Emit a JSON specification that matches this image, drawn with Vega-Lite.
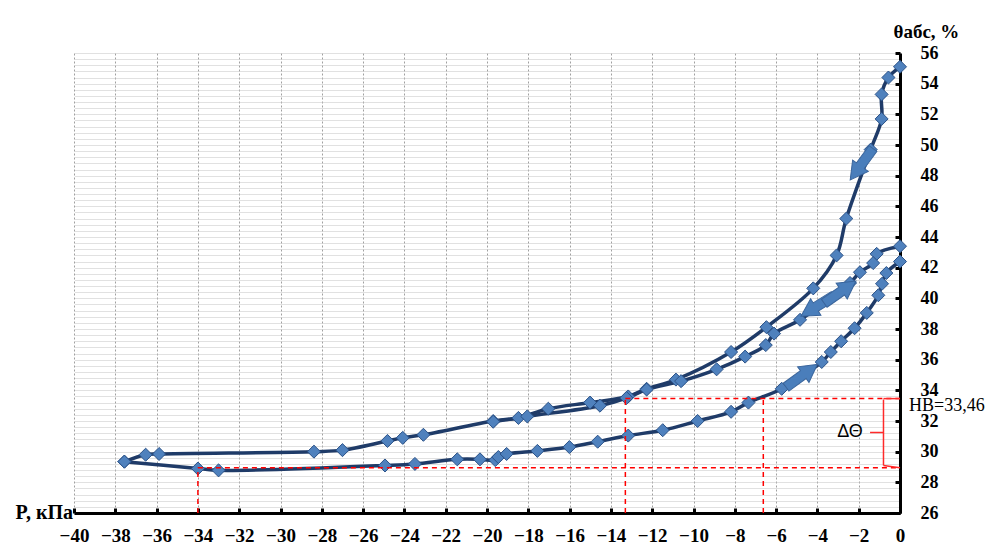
{
  "$schema": "https://vega.github.io/schema/vega-lite/v6.json",
  "width": 826,
  "height": 460,
  "autosize": {"type": "none"},
  "padding": {"left": 74, "top": 53, "right": 90, "bottom": 40},
  "background": "white",
  "config": {"view": {"stroke": null}},
  "datasets": {
    "curves": [
      {"s": "A", "i": 0, "x": 0, "y": 55.1},
      {"s": "A", "i": 1, "x": -0.56, "y": 54.4},
      {"s": "A", "i": 2, "x": -0.89, "y": 53.3},
      {"s": "A", "i": 3, "x": -0.89, "y": 51.7},
      {"s": "A", "i": 4, "x": -1.42, "y": 49.7},
      {"s": "A", "i": 5, "x": -2.6, "y": 45.2},
      {"s": "A", "i": 6, "x": -3.07, "y": 42.8},
      {"s": "A", "i": 7, "x": -4.2, "y": 40.65},
      {"s": "A", "i": 8, "x": -6.47, "y": 38.12},
      {"s": "A", "i": 9, "x": -8.18, "y": 36.5},
      {"s": "A", "i": 10, "x": -10.85, "y": 34.7},
      {"s": "A", "i": 11, "x": -12.27, "y": 34.1},
      {"s": "A", "i": 12, "x": -13.16, "y": 33.6},
      {"s": "A", "i": 13, "x": -15.01, "y": 33.2},
      {"s": "A", "i": 14, "x": -17.03, "y": 32.8},
      {"s": "A", "i": 15, "x": -18.48, "y": 32.2},
      {"s": "A", "i": 16, "x": -19.7, "y": 32.0},
      {"s": "A", "i": 17, "x": -23.08, "y": 31.1},
      {"s": "A", "i": 18, "x": -24.08, "y": 30.9},
      {"s": "A", "i": 19, "x": -24.82, "y": 30.7},
      {"s": "A", "i": 20, "x": -27.0, "y": 30.1},
      {"s": "A", "i": 21, "x": -28.38, "y": 30.0},
      {"s": "A", "i": 22, "x": -35.88, "y": 29.85},
      {"s": "A", "i": 23, "x": -36.53, "y": 29.8},
      {"s": "A", "i": 24, "x": -37.56, "y": 29.35},
      {"s": "B", "i": 0, "x": -37.56, "y": 29.35},
      {"s": "B", "i": 1, "x": -34.0, "y": 28.9},
      {"s": "B", "i": 2, "x": -33.0, "y": 28.78},
      {"s": "B", "i": 4, "x": -24.94, "y": 29.1},
      {"s": "B", "i": 5, "x": -23.49, "y": 29.2},
      {"s": "B", "i": 6, "x": -21.44, "y": 29.5},
      {"s": "B", "i": 7, "x": -20.34, "y": 29.5},
      {"s": "B", "i": 8, "x": -19.6, "y": 29.45},
      {"s": "B", "i": 9, "x": -19.45, "y": 29.65},
      {"s": "B", "i": 10, "x": -19.05, "y": 29.85},
      {"s": "B", "i": 11, "x": -17.56, "y": 30.05},
      {"s": "B", "i": 12, "x": -16.01, "y": 30.3},
      {"s": "B", "i": 13, "x": -14.64, "y": 30.65},
      {"s": "B", "i": 14, "x": -13.16, "y": 31.05},
      {"s": "B", "i": 15, "x": -11.49, "y": 31.4},
      {"s": "B", "i": 16, "x": -9.8, "y": 32.0},
      {"s": "B", "i": 17, "x": -8.18, "y": 32.6},
      {"s": "B", "i": 18, "x": -7.34, "y": 33.2},
      {"s": "B", "i": 19, "x": -5.73, "y": 34.1},
      {"s": "B", "i": 20, "x": -3.79, "y": 35.85},
      {"s": "B", "i": 21, "x": -3.35, "y": 36.5},
      {"s": "B", "i": 22, "x": -2.85, "y": 37.2},
      {"s": "B", "i": 23, "x": -2.2, "y": 38.05},
      {"s": "B", "i": 24, "x": -1.61, "y": 39.05},
      {"s": "B", "i": 25, "x": -1.05, "y": 40.2},
      {"s": "B", "i": 26, "x": -0.87, "y": 40.95},
      {"s": "B", "i": 27, "x": -0.66, "y": 41.65},
      {"s": "B", "i": 28, "x": 0, "y": 42.4},
      {"s": "C", "i": 0, "x": 0, "y": 43.4},
      {"s": "C", "i": 1, "x": -1.13, "y": 42.9},
      {"s": "C", "i": 2, "x": -1.3, "y": 42.3},
      {"s": "C", "i": 3, "x": -1.94, "y": 41.7},
      {"s": "C", "i": 4, "x": -2.42, "y": 41.0},
      {"s": "C", "i": 5, "x": -4.84, "y": 38.6},
      {"s": "C", "i": 6, "x": -6.1, "y": 37.7},
      {"s": "C", "i": 7, "x": -6.5, "y": 36.95},
      {"s": "C", "i": 8, "x": -7.5, "y": 36.2},
      {"s": "C", "i": 9, "x": -8.88, "y": 35.37},
      {"s": "C", "i": 10, "x": -10.6, "y": 34.6},
      {"s": "C", "i": 11, "x": -12.27, "y": 34.05},
      {"s": "C", "i": 12, "x": -13.25, "y": 33.5},
      {"s": "C", "i": 13, "x": -14.53, "y": 33.0},
      {"s": "C", "i": 14, "x": -18.05, "y": 32.3},
      {"s": "C", "i": 15, "x": -19.7, "y": 31.95}
    ],
    "arrows": [
      {"x": -1.86, "y": 48.75, "a": 216},
      {"x": -4.0, "y": 39.5, "a": 238},
      {"x": -2.9, "y": 40.4, "a": 55},
      {"x": -4.76, "y": 34.95, "a": 54}
    ],
    "dashed": [
      {"x": -13.3, "x2": 0, "y": 33.46, "y2": 33.46},
      {"x": -34, "x2": 0, "y": 28.95, "y2": 28.95},
      {"x": -13.3, "x2": -13.3, "y": 26, "y2": 33.46},
      {"x": -6.62, "x2": -6.62, "y": 26, "y2": 33.46},
      {"x": -34, "x2": -34, "y": 26, "y2": 28.95}
    ],
    "brace": [
      {"x": -0.8, "x2": -0.8, "y": 29.1, "y2": 33.4},
      {"x": -0.8, "x2": 0, "y": 33.46, "y2": 33.46},
      {"x": -0.8, "x2": 0, "y": 29.1, "y2": 28.95},
      {"x": -1.45, "x2": -0.8, "y": 31.25, "y2": 31.25}
    ]
  },
  "encoding": {
    "x": {
      "field": "x", "type": "quantitative",
      "scale": {"domain": [-40, 0], "nice": false, "zero": false},
      "axis": {
        "title": "P, кПа",
        "values": [-40, -38, -36, -34, -32, -30, -28, -26, -24, -22, -20, -18, -16, -14, -12, -10, -8, -6, -4, -2, 0],
        "grid": true, "gridColor": "#a0a0a0", "gridDash": [2, 2], "gridWidth": 1,
        "domainColor": "black", "domainWidth": 3,
        "tickColor": "black", "tickWidth": 3, "tickSize": -5,
        "labelFont": "Liberation Serif", "labelFontWeight": "bold", "labelFontSize": 19, "labelColor": "black",
        "labelPadding": 18, "labelFlush": false, "labelOverlap": false,
        "titleFont": "Liberation Serif", "titleFontWeight": "bold", "titleFontSize": 20, "titleColor": "black",
        "titleAngle": 0, "titleAlign": "left", "titleBaseline": "alphabetic", "titleX": -59, "titleY": 5
      }
    },
    "y": {
      "field": "y", "type": "quantitative",
      "scale": {"domain": [26, 56], "nice": false, "zero": false},
      "axis": {
        "orient": "right",
        "title": "θабс, %",
        "values": [26,26.4,26.8,27.2,27.6,28,28.4,28.8,29.2,29.6,30,30.4,30.8,31.2,31.6,32,32.4,32.8,33.2,33.6,34,34.4,34.8,35.2,35.6,36,36.4,36.8,37.2,37.6,38,38.4,38.8,39.2,39.6,40,40.4,40.8,41.2,41.6,42,42.4,42.8,43.2,43.6,44,44.4,44.8,45.2,45.6,46,46.4,46.8,47.2,47.6,48,48.4,48.8,49.2,49.6,50,50.4,50.8,51.2,51.6,52,52.4,52.8,53.2,53.6,54,54.4,54.8,55.2,55.6,56],
        "labelExpr": "datum.value % 2 === 0 ? format(datum.value, 'd') : ''",
        "grid": true, "gridColor": "#c2c2c2", "gridDash": [1, 1], "gridWidth": 1,
        "domainColor": "black", "domainWidth": 3,
        "tickColor": "black", "tickWidth": 3, "tickSize": -5,
        "tickOpacity": {"condition": {"test": "datum.value % 2 === 0", "value": 1}, "value": 0},
        "labelFont": "Liberation Serif", "labelFontWeight": "bold", "labelFontSize": 18, "labelColor": "black",
        "labelPadding": 25, "labelFlush": false, "labelOverlap": false,
        "titleFont": "Liberation Serif", "titleFontWeight": "bold", "titleFontSize": 19, "titleColor": "black",
        "titleAngle": 0, "titleAlign": "left", "titleBaseline": "middle", "titleX": -7, "titleY": -22
      }
    }
  },
  "layer": [
    {
      "data": {"name": "curves"},
      "mark": {"type": "line", "color": "#1f3b68", "strokeWidth": 3.5, "interpolate": "catmull-rom"},
      "encoding": {
        "detail": {"field": "s"},
        "order": {"field": "i", "type": "quantitative"}
      }
    },
    {
      "data": {"name": "curves"},
      "mark": {"type": "point", "shape": "diamond", "filled": true, "fill": "#4f81bd", "stroke": "#2b5288", "strokeWidth": 1, "size": 170, "opacity": 1},
      "encoding": {}
    },
    {
      "data": {"name": "arrows"},
      "mark": {"type": "point", "shape": "M-0.25,1L0.25,1L0.25,-0.1L0.5,-0.1L0,-1L-0.5,-0.1L-0.25,-0.1Z", "filled": true, "fill": "#4a7ebb", "stroke": "#3a659c", "strokeWidth": 1, "size": 1500, "opacity": 1},
      "encoding": {
        "angle": {"field": "a", "type": "quantitative", "scale": null}
      }
    },
    {
      "data": {"name": "dashed"},
      "mark": {"type": "rule", "color": "#ff0000", "strokeWidth": 1.5, "strokeDash": [5, 4]},
      "encoding": {
        "x2": {"field": "x2"},
        "y2": {"field": "y2"}
      }
    },
    {
      "data": {"name": "brace"},
      "mark": {"type": "rule", "color": "#ff2a2a", "strokeWidth": 1.5},
      "encoding": {
        "x2": {"field": "x2"},
        "y2": {"field": "y2"}
      }
    },
    {
      "data": {"values": [{"x": -2.42, "y": 31.3, "t": "ΔΘ"}]},
      "mark": {"type": "text", "font": "Liberation Sans", "fontSize": 18, "color": "black", "align": "center", "baseline": "middle"},
      "encoding": {
        "text": {"field": "t"}
      }
    },
    {
      "data": {"values": [{"x": 0, "y": 32.95, "t": "НВ=33,46"}]},
      "mark": {"type": "text", "font": "Liberation Serif", "fontSize": 18, "color": "black", "align": "left", "baseline": "middle", "dx": 9},
      "encoding": {
        "text": {"field": "t"}
      }
    }
  ]
}
